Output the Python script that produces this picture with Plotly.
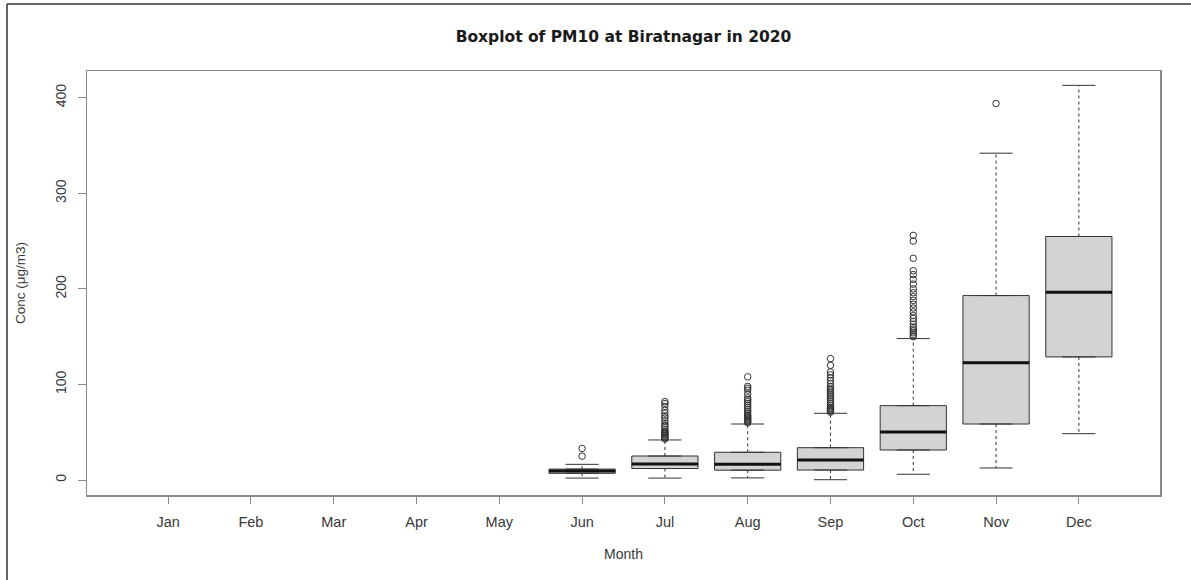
import plotly.graph_objects as go

# ---------------- data ----------------
month_labels = ["Jan", "Feb", "Mar", "Apr", "May", "Jun",
                "Jul", "Aug", "Sep", "Oct", "Nov", "Dec"]
month_pos = list(range(1, 13))

# months that have data (Jun..Dec)
data_months = [6, 7, 8, 9, 10, 11, 12]
q1 = [7.0, 12.0, 10.3, 10.4, 31.4, 58.6, 128.8]
median = [9.3, 16.8, 16.4, 21.0, 50.3, 122.8, 196.5]
q3 = [11.4, 25.1, 29.0, 33.8, 77.8, 193.0, 254.8]
lower_whisker = [2.0, 2.0, 2.2, 0.3, 6.0, 12.6, 48.5]
upper_whisker = [16.4, 41.9, 58.6, 69.8, 148.0, 342.0, 413.0]

outliers_jun = [33, 25]
outliers_jul = [82, 80, 77, 73, 70, 67, 65, 62, 59, 57, 55, 53, 51, 50,
                49, 48, 47, 46, 45, 44, 43]
outliers_aug = [108, 98, 96, 94, 90, 86, 84, 82, 80, 78, 76, 74, 72, 70,
                68, 67, 66, 65, 64, 63, 62, 61, 60]
outliers_sep = [127, 120, 113, 110, 107, 104, 101, 98, 96, 94, 92, 90, 88,
                86, 84, 82, 80, 78, 76, 75, 74, 73, 72, 71]
outliers_oct = [256, 250, 232, 219, 215, 210, 205, 200, 196, 192, 188, 184,
                180, 176, 172, 169, 166, 163, 160, 158, 156, 154, 152, 150]
outliers_nov = [394]
outliers_dec = []
outliers = [outliers_jun, outliers_jul, outliers_aug, outliers_sep,
            outliers_oct, outliers_nov, outliers_dec]

y_ticks = [0, 100, 200, 300, 400]

# ---------------- styling ----------------
BOX_W = 0.8
CAP_W = 0.4
FONT = "Liberation Sans, Arial, sans-serif"
TXT = "#383838"
FRAME = "#8a8a8a"

fig = go.Figure()

for i, m in enumerate(data_months):
    # dashed whiskers
    fig.add_trace(go.Scatter(
        x=[m, m, None, m, m],
        y=[q3[i], upper_whisker[i], None, q1[i], lower_whisker[i]],
        mode="lines", line=dict(color="#333333", width=1, dash="3px,3px"),
        hoverinfo="skip", showlegend=False))
    # whisker caps
    fig.add_trace(go.Scatter(
        x=[m - CAP_W / 2, m + CAP_W / 2, None, m - CAP_W / 2, m + CAP_W / 2],
        y=[upper_whisker[i], upper_whisker[i], None,
           lower_whisker[i], lower_whisker[i]],
        mode="lines", line=dict(color="#333333", width=1),
        hoverinfo="skip", showlegend=False))
    # box
    fig.add_trace(go.Box(
        x=[m], q1=[q1[i]], median=[median[i]], q3=[q3[i]],
        lowerfence=[q1[i]], upperfence=[q3[i]],
        width=BOX_W, fillcolor="#d3d3d3",
        line=dict(color="#333333", width=1),
        boxpoints=False, showlegend=False))
    # thick median
    fig.add_trace(go.Scatter(
        x=[m - BOX_W / 2, m + BOX_W / 2], y=[median[i], median[i]],
        mode="lines", line=dict(color="#111111", width=3),
        hoverinfo="skip", showlegend=False))
    # outliers
    if outliers[i]:
        fig.add_trace(go.Scatter(
            x=[m] * len(outliers[i]), y=outliers[i], mode="markers",
            marker=dict(symbol="circle-open", size=6.5,
                        color="#333333", line=dict(width=1)),
            showlegend=False))

# image border (left & top edges)
L, R, T, B = 87, 31, 71, 85
W, H = 1191, 580
pw, ph = W - L - R, H - T - B
bx = (7 - L) / pw
by = 1 + (T - 4) / ph
fig.add_shape(type="line", xref="paper", yref="paper",
              x0=bx, x1=(W - L) / pw, y0=by, y1=by,
              line=dict(color="#333333", width=1.5))
fig.add_shape(type="line", xref="paper", yref="paper",
              x0=bx, x1=bx, y0=by, y1=-(B + 5) / ph,
              line=dict(color="#333333", width=1.5))

fig.update_layout(
    width=W, height=H,
    margin=dict(l=L, r=R, t=T, b=B),
    paper_bgcolor="white", plot_bgcolor="white",
    showlegend=False,
    font=dict(family=FONT, size=14, color=TXT),
    title=dict(text="<b>Boxplot of PM10 at Biratnagar in 2020</b>",
               x=0.5, xref="paper", xanchor="center",
               y=1 - 37 / H, yanchor="middle",
               font=dict(family="DejaVu Sans, sans-serif", size=15.5,
                         color="#1a1a1a")),
    xaxis=dict(
        range=[0.02, 12.98], tickmode="array", tickvals=month_pos,
        ticktext=month_labels, showgrid=False, zeroline=False,
        showline=True, mirror=True, linecolor=FRAME, linewidth=1.5,
        ticks="outside", ticklen=7, tickcolor=FRAME, tickwidth=1,
        ticklabelstandoff=6,
        tickfont=dict(size=14.5, color=TXT),
        title=dict(text="Month", standoff=20,
                   font=dict(size=14, color=TXT))),
    yaxis=dict(
        range=[-15.7, 428], tickmode="array", tickvals=y_ticks,
        showgrid=False, zeroline=False,
        showline=True, mirror=True, linecolor=FRAME, linewidth=1.5,
        ticks="outside", ticklen=8, tickcolor=FRAME, tickwidth=1,
        tickangle=-90, ticklabelstandoff=6,
        tickfont=dict(size=14, color=TXT),
        title=dict(text="Conc (μg/m3)", standoff=24,
                   font=dict(size=13.5, color=TXT))),
)

fig.write_html(
    "out.html",
    config={"displayModeBar": False, "staticPlot": True},
    post_script="document.body.style.margin='0';"
                "document.body.style.overflow='hidden';")
